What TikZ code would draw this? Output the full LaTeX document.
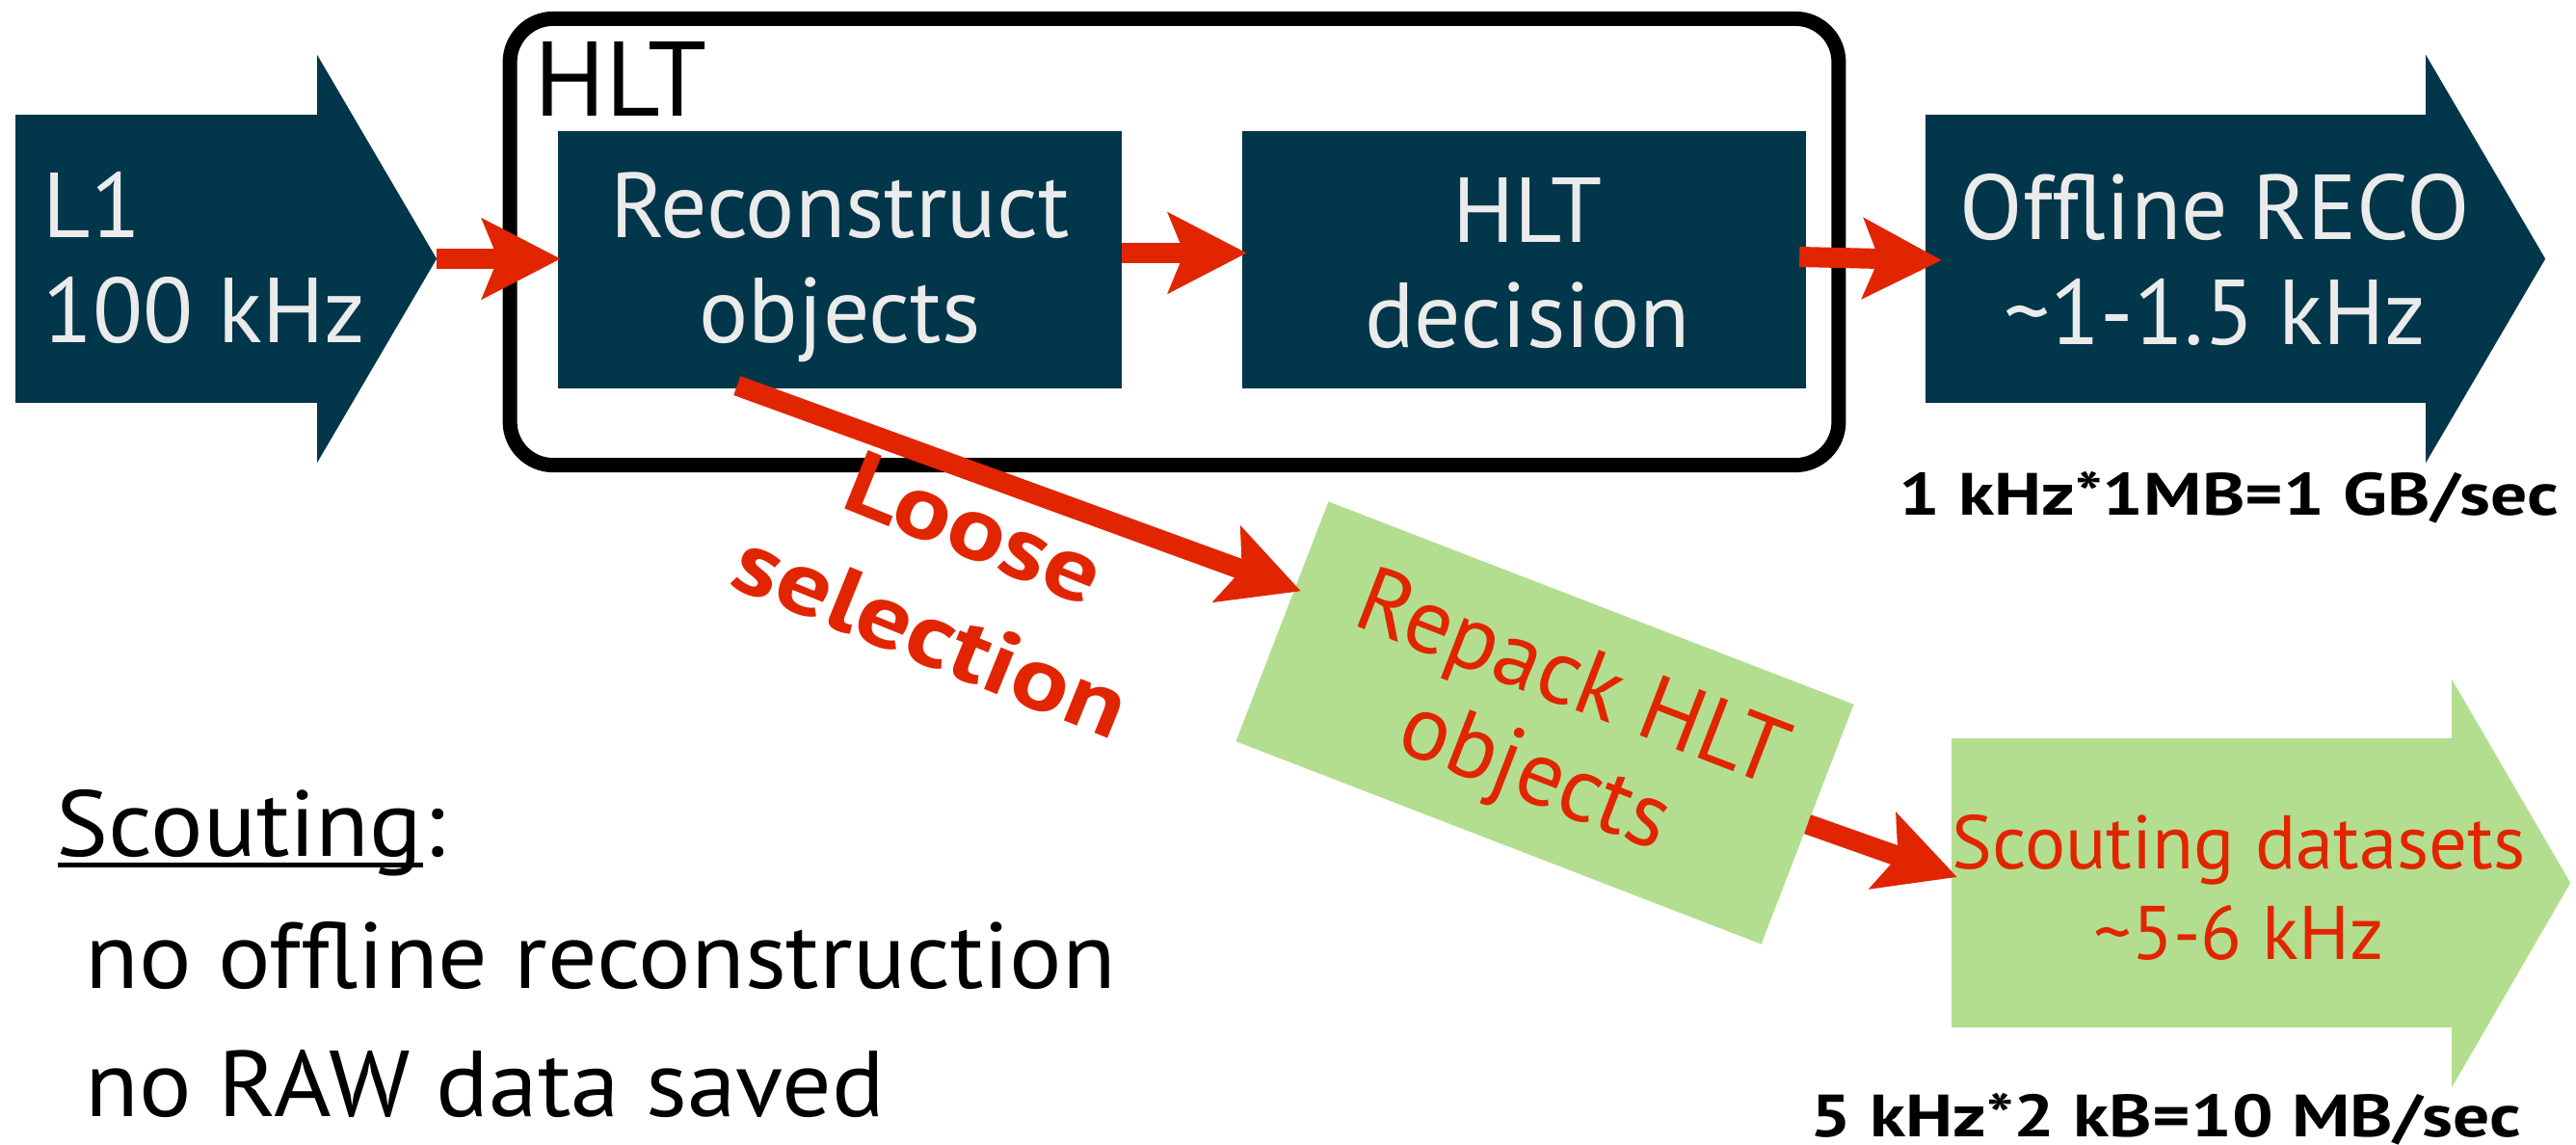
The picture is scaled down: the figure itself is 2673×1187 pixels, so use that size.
\documentclass[tikz,border=0pt]{standalone}
\usepackage{fontspec}
\setmainfont{PT Sans}
\usetikzlibrary{arrows.meta,calc}
\definecolor{boxteal}{RGB}{2,54,74}
\definecolor{arrred}{RGB}{225,37,0}
\definecolor{boxgreen}{RGB}{179,222,143}
\definecolor{lighttxt}{RGB}{235,235,235}
\tikzset{
  tealrect/.style={fill=boxteal, inner sep=0pt, outer sep=0pt},
  greenrect/.style={fill=boxgreen, inner sep=0pt, outer sep=0pt},
  boxtext/.style={text=lighttxt, inner sep=0pt, align=center, font=\fontsize{27.2pt}{31pt}\selectfont},
  redtext/.style={text=arrred, inner sep=0pt, align=center},
  ratetext/.style={inner sep=0pt, font=\bfseries\fontsize{17.6pt}{20pt}\selectfont, xscale=1.22},
  lefttext/.style={inner sep=0pt, font=\fontsize{27.6pt}{32pt}\selectfont, xscale=1.05},
  hltframe/.style={draw=black, line width=0.15cm, rounded corners=0.45cm, inner sep=0pt, minimum width=13.78cm, minimum height=4.63cm},
  redarr/.style={draw=arrred, line width=0.21cm, -{Stealth[length=0.81cm,width=0.82cm,inset=0.16cm]}}
}
\begin{document}
\begin{tikzpicture}[x=0.01cm, y=-0.01cm]
\useasboundingbox (0,0) rectangle (2673,1187);

% HLT frame
\node[hltframe] (hlt) at (1218.5,251) {};
\node[anchor=base west, inner sep=0pt, font=\fontsize{31.3pt}{36pt}\selectfont] (hltlab) at (554,120) {HLT};

% L1 arrow
\node[tealrect, minimum width=3.14cm, minimum height=2.99cm] (l1) at (173,268.5) {};
\coordinate (l1tip) at ($(l1.east)+(123,0)$);
\fill[boxteal] ($(l1.north east)+(-1,-62)$) -- (l1tip) -- ($(l1.south east)+(-1,62)$) -- cycle;
\node[boxtext, align=left, anchor=west] (l1txt) at (44,268) {L1\\100 kHz};

% Reconstruct objects
\node[tealrect, minimum width=5.85cm, minimum height=2.67cm] (reco) at (871.5,269.5) {};
\node[boxtext] (recotxt) at (871.5,277.5) {Reconstruct\\objects};

% HLT decision
\node[tealrect, minimum width=5.85cm, minimum height=2.67cm] (dec) at (1581.5,269.5) {};
\node[boxtext] (dectxt) at (1585,273.5) {HLT\\decision};

% Offline RECO arrow
\node[tealrect, minimum width=5.2cm, minimum height=2.99cm] (off) at (2258,268.5) {};
\coordinate (offtip) at ($(off.east)+(123,0)$);
\fill[boxteal] ($(off.north east)+(-1,-62)$) -- (offtip) -- ($(off.south east)+(-1,62)$) -- cycle;
\node[boxtext] (offtxt) at (2298.5,270) {Offline RECO\\\textasciitilde1-1.5 kHz};
\node[ratetext, anchor=base] (rate1) at (2313,534) {1 kHz*1MB=1 GB/sec};

% Scouting datasets arrow
\node[greenrect, minimum width=5.2cm, minimum height=3.0cm] (sct) at (2285,916) {};
\coordinate (scttip) at ($(sct.east)+(122,0)$);
\fill[boxgreen] ($(sct.north east)+(-1,-61)$) -- (scttip) -- ($(sct.south east)+(-1,62)$) -- cycle;
\node[redtext, font=\fontsize{22.4pt}{26.7pt}\selectfont] (scttxt) at (2323,920.5) {Scouting datasets\\\textasciitilde5-6 kHz};
\node[ratetext, anchor=base] (rate2) at (2247.5,1179) {5 kHz*2 kB=10 MB/sec};

% Repack HLT objects
\node[greenrect, minimum width=5.84cm, minimum height=2.665cm, rotate=-21.1] (rep) at (1603,750) {};
\node[redtext, rotate=-21.1, font=\fontsize{27.2pt}{30pt}\selectfont] (reptxt) at (1610,759) {Repack HLT\\objects};

% red connectors
\coordinate (lsstart) at ($(reco.south west)+(186,-3)$);
\coordinate (lsend) at ($(rep.west)+(19.5,-31.5)$);
\draw[redarr] (l1tip) -- ($(reco.west)+(3,-1)$);
\draw[redarr] ($(reco.east)+(0,-7)$) -- ($(dec.west)+(5,-7)$);
\draw[redarr] ($(dec.east)+(-7,-3)$) -- ($(off.west)+(17,1.5)$);
\draw[redarr] (lsstart) -- (lsend);
\draw[redarr] (rep.east) -- ($(sct.west)+(6,-6)$);

% Loose selection
\node[redtext, rotate=-22, xscale=1.2, font=\bfseries\fontsize{26.5pt}{33.9pt}\selectfont] (loose) at (989,603) {Loose\\selection};

% Scouting notes
\node[lefttext, anchor=base west] (scw) at (58,888) {Scouting};
\node[lefttext, anchor=base west] (colon) at (scw.base east) {:};
\draw[line width=0.05cm] ($(scw.base west)+(2,9)$) -- ($(scw.base east)+(0,9)$);
\node[lefttext, anchor=base west] (no1) at (88,1025) {no offline reconstruction};
\node[lefttext, anchor=base west] (no2) at (88,1158) {no RAW data saved};
\end{tikzpicture}
\end{document}
